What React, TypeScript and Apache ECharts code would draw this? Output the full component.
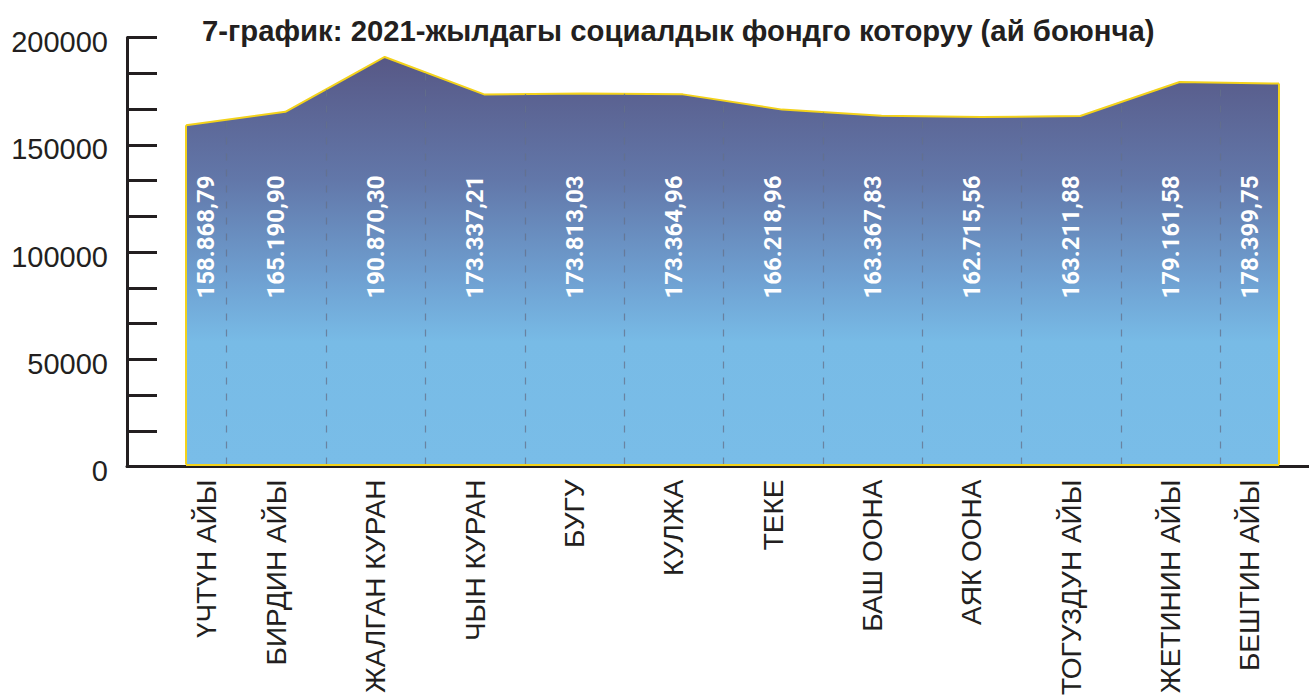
import React, { useEffect, useRef } from "react";
import * as echarts from "echarts";

const TITLE = "7-график: 2021-жылдагы социалдык фондго которуу (ай боюнча)";

const categories = [
  "ҮЧТҮН АЙЫ",
  "БИРДИН АЙЫ",
  "ЖАЛГАН КУРАН",
  "ЧЫН КУРАН",
  "БУГУ",
  "КУЛЖА",
  "ТЕКЕ",
  "БАШ ООНА",
  "АЯК ООНА",
  "ТОГУЗДУН АЙЫ",
  "ЖЕТИНИН АЙЫ",
  "БЕШТИН АЙЫ",
];

const values = [
  158868.79, 165190.9, 190870.3, 173337.21, 173813.03, 173364.96, 166218.96,
  163367.83, 162715.56, 163211.88, 179161.58, 178399.75,
];

const Y_MIN = 0;
const Y_MAX = 200000;
const Y_TICK_STEP = 200000 / 12;
const Y_LABEL_STEP = 50000;

// dashed separators sit this fraction of the way from one month to the next
const SEPARATOR_OFFSET = 0.41;

function fmt(v: number): string {
  const [i, d] = v.toFixed(2).split(".");
  return i.replace(/\B(?=(\d{3})+(?!\d))/g, ".") + "," + d;
}

export default function App() {
  const ref = useRef<HTMLDivElement>(null);

  useEffect(() => {
    const chart = echarts.init(ref.current!, null, { renderer: "svg" });
    const last = values.length - 1;
    const seps = values.slice(0, last).map((_, k) => k + SEPARATOR_OFFSET);
    const bounds = [0, ...seps, last];
    const mids = categories.map((_, i) => (bounds[i] + bounds[i + 1]) / 2);
    const dark = "#231f20";
    const yellow = "#f3d21b";

    const dashed = seps.map((x, k) => [
      {
        coord: [x, 0],
        lineStyle: { type: [7, 9], color: "rgba(100,112,138,0.75)", width: 1.2 },
      },
      { coord: [x, values[k] + SEPARATOR_OFFSET * (values[k + 1] - values[k])] },
    ]);
    const edgeStyle = { type: "solid", color: yellow, width: 2 };
    const edges = [
      [{ coord: [0, 0], lineStyle: edgeStyle }, { coord: [0, values[0]] }],
      [{ coord: [last, 0], lineStyle: edgeStyle }, { coord: [last, values[last]] }],
      [{ coord: [0, 0], lineStyle: edgeStyle }, { coord: [last, 0] }],
    ];

    chart.setOption({
      animation: false,
      backgroundColor: "#ffffff",
      title: {
        text: TITLE,
        left: 197,
        top: 11,
        textStyle: {
          fontSize: 29.3,
          fontWeight: "bold",
          color: dark,
          fontFamily: "Liberation Sans",
        },
      },
      grid: [
        { left: 127, right: 0, top: 37.5, height: 429 },
        { left: 186, width: 1093, top: 37.5, height: 427 },
      ],
      xAxis: [
        {
          gridIndex: 0,
          type: "value",
          min: 0,
          max: 1,
          axisLine: { show: true, lineStyle: { color: dark, width: 3 } },
          axisTick: { show: false },
          axisLabel: { show: false },
          splitLine: { show: false },
        },
        {
          gridIndex: 1,
          type: "value",
          min: 0,
          max: last,
          axisLine: { show: false },
          axisTick: { show: false },
          splitLine: { show: false },
          axisLabel: {
            show: true,
            customValues: mids,
            rotate: 90,
            margin: 15,
            fontSize: 28,
            color: dark,
            fontFamily: "Liberation Sans",
            formatter: (v: number) => {
              const i = mids.findIndex((m) => Math.abs(m - v) < 1e-6);
              return i >= 0 ? categories[i] : "";
            },
          },
        },
      ],
      yAxis: [
        {
          gridIndex: 0,
          type: "value",
          min: Y_MIN,
          max: Y_MAX,
          interval: Y_TICK_STEP,
          axisLine: { show: true, lineStyle: { color: dark, width: 3 } },
          axisTick: {
            show: true,
            inside: true,
            length: 30,
            lineStyle: { color: dark, width: 3 },
          },
          splitLine: { show: false },
          axisLabel: {
            margin: 19,
            color: dark,
            formatter: (v: number) =>
              Math.round(v) % Y_LABEL_STEP === 0
                ? "{n|" + String(Math.round(v)) + "}"
                : "",
            rich: {
              n: {
                fontSize: 29,
                color: dark,
                fontFamily: "Liberation Sans",
                padding: [9, 0, 0, 0],
              },
            },
          },
        },
        {
          gridIndex: 1,
          type: "value",
          min: Y_MIN,
          max: Y_MAX,
          show: false,
          splitLine: { show: false },
        },
      ],
      series: [
        {
          type: "line",
          xAxisIndex: 1,
          yAxisIndex: 1,
          data: values.map((v, i) => [i, v]),
          symbol: "none",
          silent: true,
          z: 2,
          lineStyle: { color: yellow, width: 2 },
          areaStyle: {
            opacity: 1,
            color: {
              type: "linear",
              x: 0,
              y: 0,
              x2: 0,
              y2: 1,
              colorStops: [
                { offset: 0, color: "#575886" },
                { offset: 0.3, color: "#6277a9" },
                { offset: 0.55, color: "#6fa1d2" },
                { offset: 0.7, color: "#78bbe6" },
                { offset: 1, color: "#79bde8" },
              ],
            },
          },
          markLine: {
            silent: true,
            symbol: ["none", "none"],
            label: { show: false },
            data: [...dashed, ...edges],
          },
        },
        {
          type: "bar",
          xAxisIndex: 1,
          yAxisIndex: 1,
          data: mids.map((m, i) => [m, values[i]]),
          barWidth: 1,
          silent: true,
          z: 6,
          itemStyle: { color: "rgba(0,0,0,0)" },
          label: {
            show: true,
            position: "insideBottom",
            distance: 166,
            rotate: 90,
            align: "left",
            verticalAlign: "middle",
            color: "#ffffff",
            fontFamily: "Roboto",
            fontWeight: "bold",
            fontSize: 24,
            formatter: (p: any) => fmt(p.value[1]),
          },
        },
      ],
    });

    return () => chart.dispose();
  }, []);

  return (
    <div
      ref={ref}
      style={{ position: "fixed", left: 0, top: 0, width: 1309, height: 700 }}
    />
  );
}
